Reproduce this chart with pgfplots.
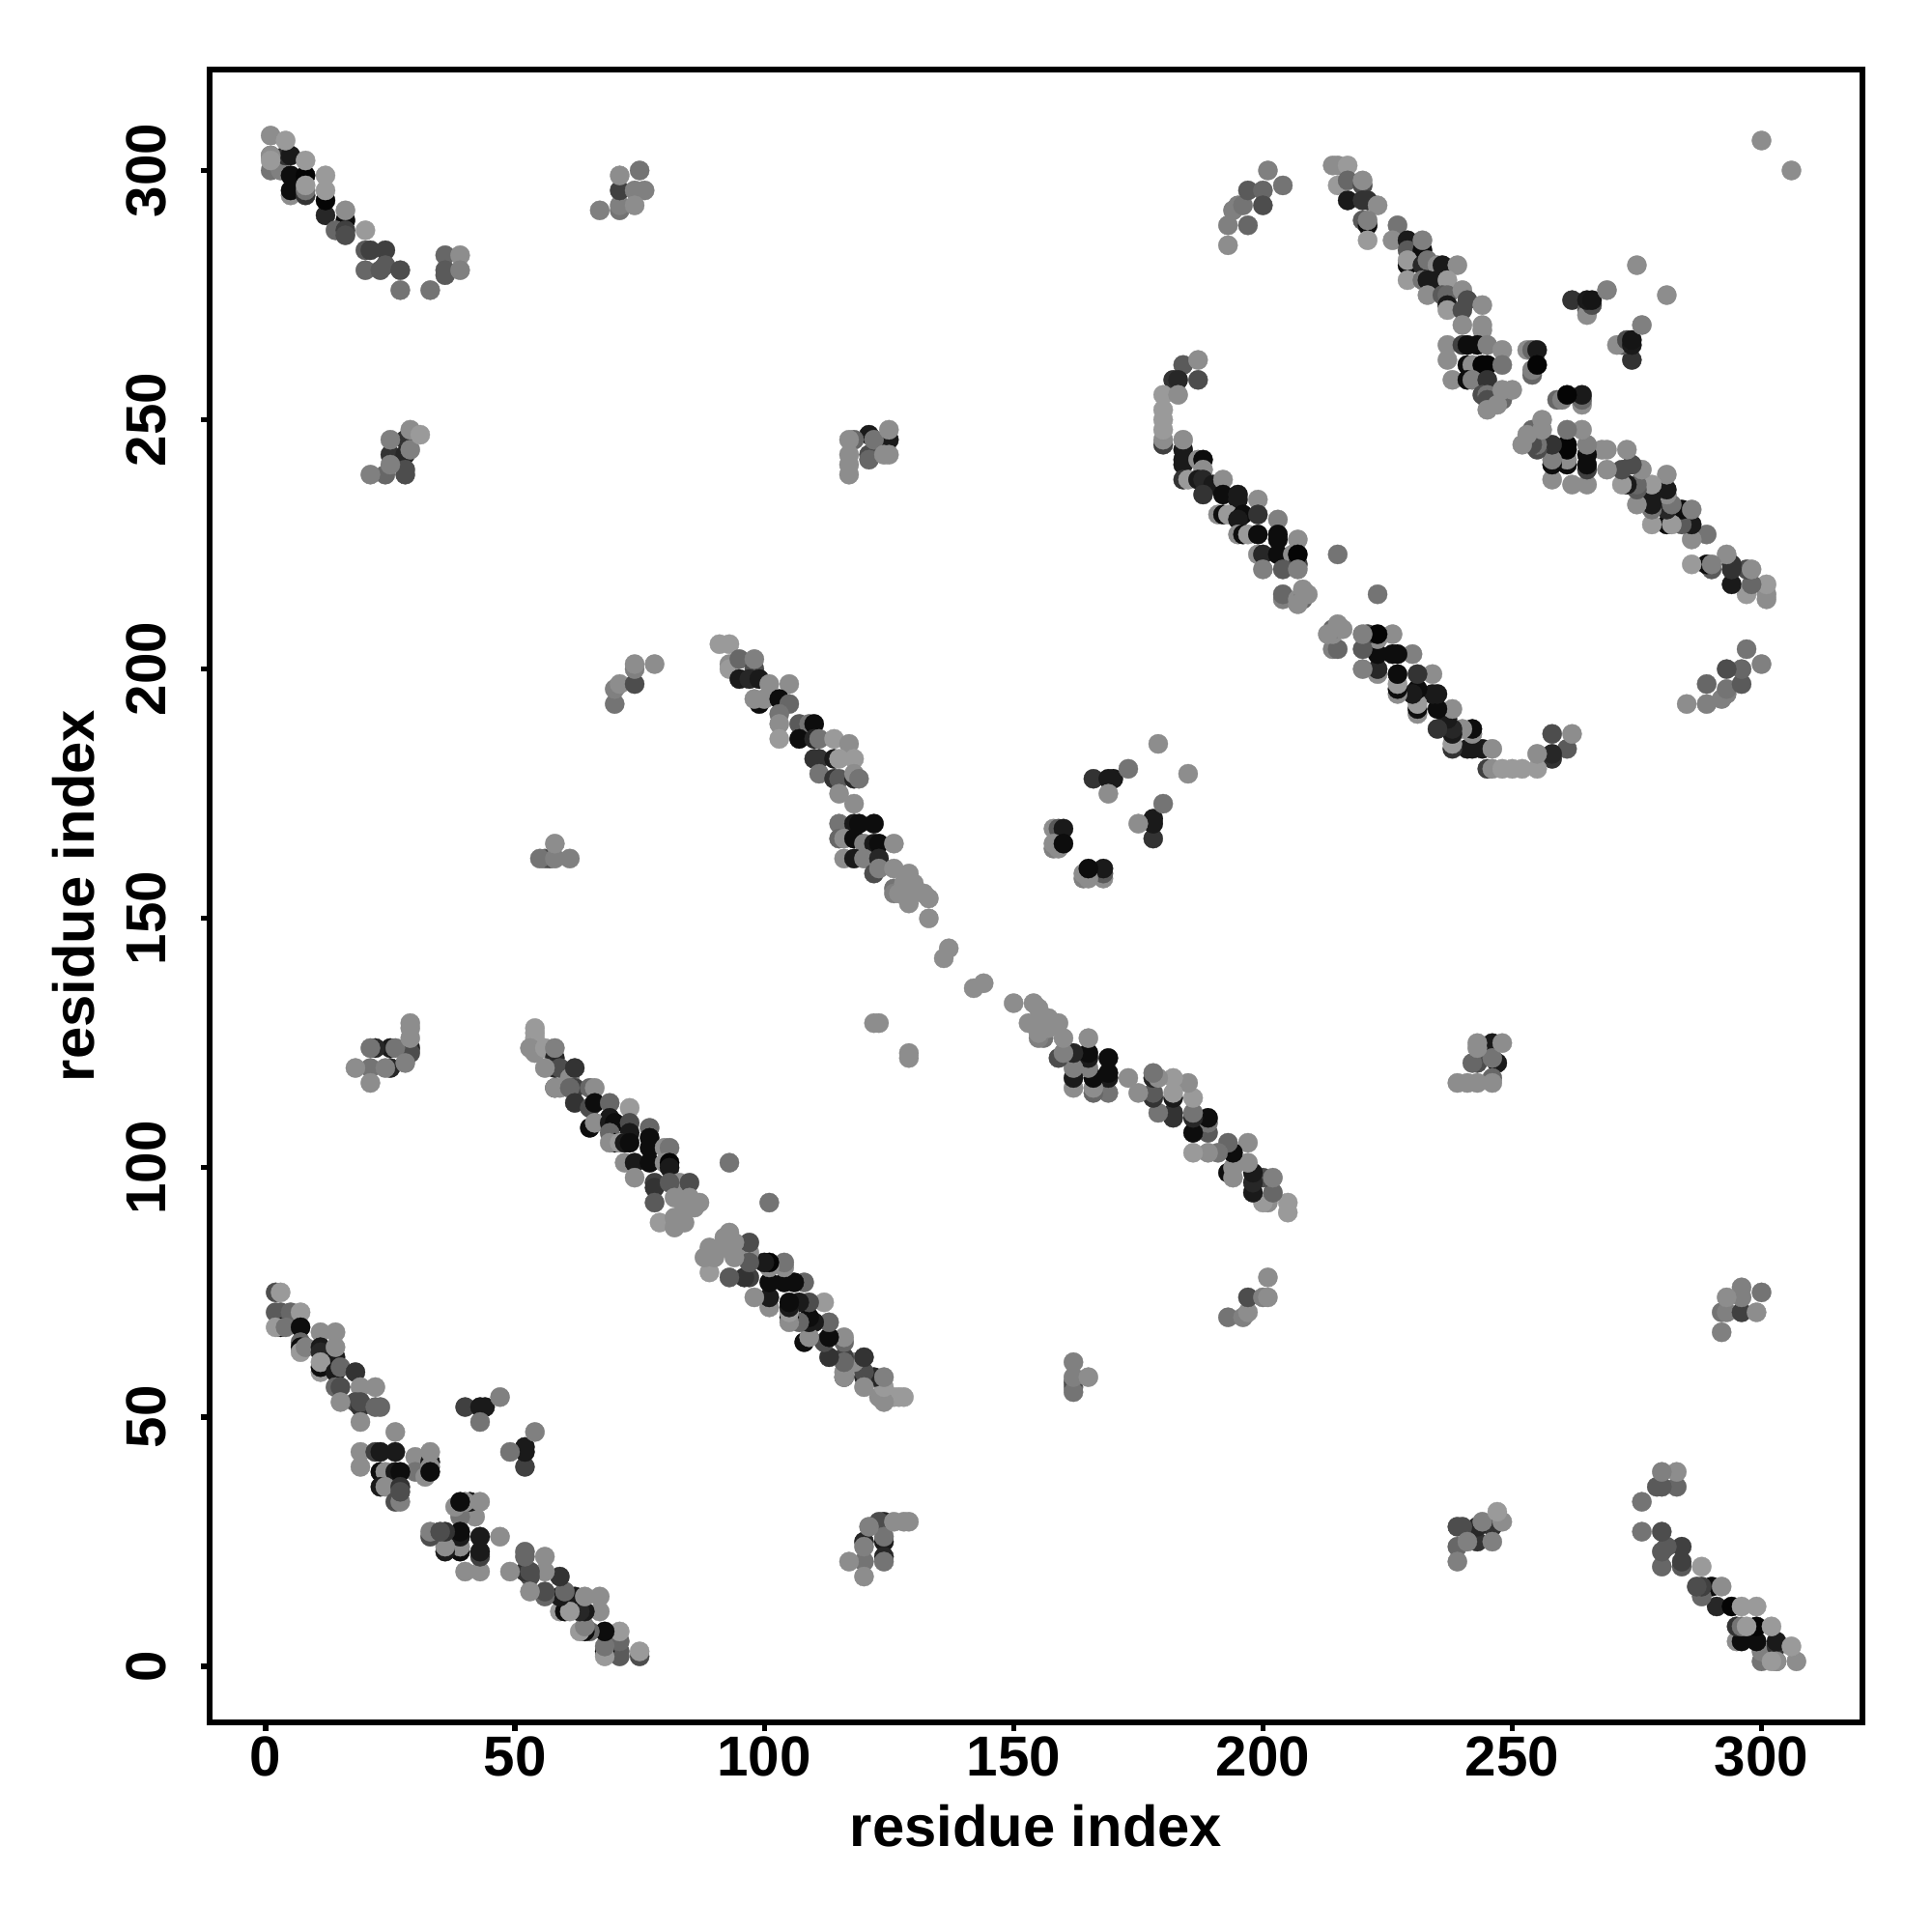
\documentclass[border=0pt]{standalone}
\usepackage{pgfplots}
\usepackage{pgfplotstable}
\usepackage{fontspec}
\setmainfont{Liberation Sans}
\pgfplotsset{compat=1.18}
\pgfplotsset{every axis/.append style={line width=1.5pt}}

% contact map, upper triangle only (i<j), g = grey level; mirrored in the plot
\pgfplotstableread[row sep=\\]{
i j g\\
1 303 .5\\ 1 300 .45\\ 3 300 .5\\ 4 303 .2\\ 5 303 .1\\ 5 295 .55\\ 5 296 .05\\ 5 299 .05\\ 8 295 .2\\ 8 296 .45\\ 8 299 .02\\
1 307 .55\\ 4 306 .6\\ 1 303 .55\\ 1 302 .6\\ 8 302 .6\\ 8 297 .6\\ 12 291 .15\\ 12 294 .02\\ 12 299 .6\\ 12 296 .6\\ 16 290 .05\\ 16 292 .55\\
14 288 .4\\ 16 288 .25\\ 16 287 .3\\ 20 284 .35\\ 21 284 .25\\ 24 284 .25\\ 20 280 .4\\ 23 280 .35\\ 24 281 .35\\ 27 280 .3\\ 20 288 .6\\
27 276 .45\\ 33 276 .45\\ 36 283 .4\\ 39 283 .55\\ 36 280 .35\\ 36 279 .35\\ 39 280 .5\\
67 292 .5\\ 71 292 .45\\ 71 293 .5\\ 71 296 .25\\ 71 299 .55\\ 75 300 .45\\ 74 296 .5\\ 76 296 .5\\ 74 293 .55\\
28 246 .2\\ 25 243 .2\\ 28 243 .15\\ 24 239 .4\\ 28 240 .3\\ 28 239 .3\\ 21 239 .5\\ 25 241 .5\\ 25 246 .5\\ 29 244 .5\\ 29 248 .55\\ 31 247 .6\\
121 247 .1\\ 125 246 .1\\ 121 243 .3\\ 121 242 .4\\ 118 246 .4\\ 117 246 .55\\ 117 243 .55\\ 117 241 .55\\ 117 239 .55\\ 122 246 .45\\ 125 248 .55\\ 124 243 .55\\ 125 243 .55\\
25 124 .1\\ 22 124 .15\\ 25 120 .15\\ 29 124 .15\\ 29 123 .3\\ 21 124 .45\\ 26 124 .45\\ 21 120 .45\\ 24 120 .5\\ 28 121 .5\\ 18 120 .55\\ 21 117 .55\\ 29 129 .55\\ 29 128 .55\\ 29 126 .55\\
2 75 .3\\ 3 75 .6\\ 2 71 .35\\ 3 71 .35\\ 5 71 .4\\ 7 71 .6\\ 3 68 .05\\ 2 68 .6\\ 4 68 .45\\ 7 68 .05\\ 7 65 .4\\ 7 64 .05\\ 7 63 .6\\ 8 64 .5\\
11 67 .55\\ 14 67 .55\\ 11 64 .1\\ 11 63 .15\\ 14 62 .1\\ 14 64 .55\\ 11 59 .6\\ 11 60 .05\\ 11 61 .6\\ 14 59 .1\\ 15 60 .4\\ 18 59 .2\\
14 56 .4\\ 15 56 .3\\ 19 56 .55\\ 22 56 .55\\ 18 53 .3\\ 19 52 .2\\ 19 53 .3\\ 15 53 .55\\ 22 52 .4\\ 23 52 .4\\ 19 49 .55\\ 26 47 .55\\ 19 43 .55\\ 19 40 .55\\
22 43 .25\\ 23 43 .1\\ 26 43 .1\\ 30 42 .55\\ 33 41 .1\\ 33 43 .55\\ 30 39 .45\\ 32 38 .55\\ 33 40 .55\\ 33 39 .05\\
23 39 .05\\ 24 39 .55\\ 26 39 .1\\ 27 39 .05\\ 23 36 .1\\ 24 36 .55\\ 27 36 .2\\ 26 33 .3\\ 27 33 .5\\ 27 35 .3\\
40 52 .25\\ 43 52 .1\\ 44 52 .1\\ 47 54 .5\\ 43 49 .45\\
54 128 .6\\ 54 127 .6\\ 54 126 .6\\ 53 124 .55\\ 54 123 .55\\ 56 124 .6\\ 58 122 .15\\ 58 124 .5\\ 58 120 .15\\ 59 120 .3\\ 56 120 .55\\ 61 118 .55\\ 62 120 .2\\
58 116 .3\\ 58 116 .55\\ 59 116 .55\\ 62 116 .25\\ 61 116 .4\\ 62 113 .2\\ 65 116 .4\\ 66 116 .55\\ 65 112 .3\\ 66 113 .05\\ 69 113 .4\\ 73 112 .6\\ 69 110 .1\\
65 108 .05\\ 66 109 .55\\ 69 109 .1\\ 70 109 .05\\ 69 107 .4\\ 73 109 .3\\ 73 107 .1\\ 77 108 .4\\ 70 105 .05\\ 69 105 .55\\ 71 105 .6\\ 72 105 .1\\ 73 105 .05\\
77 106 .05\\ 77 104 .05\\ 80 104 .55\\ 81 104 .45\\ 72 101 .55\\ 74 101 .1\\ 77 101 .05\\ 80 101 .55\\ 81 101 .02\\ 81 100 .1\\ 74 98 .55\\ 78 97 .25\\ 78 96 .2\\
83 97 .55\\ 81 97 .35\\ 85 97 .3\\ 78 93 .35\\ 82 94 .55\\ 84 92 .55\\ 85 92 .55\\ 86 92 .55\\ 79 89 .6\\ 82 90 .55\\ 82 88 .55\\ 84 89 .55\\ 85 94 .55\\ 87 93 .55\\ 93 101 .45\\
91 205 .6\\ 93 205 .6\\ 93 201 .55\\ 93 200 .6\\ 95 202 .4\\ 98 200 .3\\ 98 202 .5\\ 95 198 .1\\ 97 198 .15\\ 99 198 .1\\ 101 197 .55\\ 105 197 .55\\ 99 193 .05\\ 98 194 .55\\ 100 194 .55\\
103 194 .05\\ 105 193 .4\\ 103 191 .45\\ 103 189 .55\\ 103 186 .6\\ 107 189 .35\\ 109 189 .45\\ 110 189 .05\\ 107 186 .05\\ 110 186 .15\\ 111 186 .45\\ 114 186 .6\\ 117 185 .55\\
110 182 .2\\ 111 182 .2\\ 114 182 .1\\ 115 182 .6\\ 118 182 .6\\ 111 179 .45\\ 114 178 .2\\ 115 178 .35\\ 118 178 .15\\ 118 179 .55\\ 119 178 .45\\ 115 175 .55\\ 118 173 .55\\
115 169 .45\\ 118 169 .1\\ 119 169 .05\\ 122 169 .05\\ 115 166 .4\\ 116 166 .55\\ 118 166 .05\\ 120 165 .5\\ 122 165 .1\\ 123 165 .05\\ 126 165 .55\\
116 162 .55\\ 118 162 .1\\ 120 162 .5\\ 123 162 .15\\ 122 159 .3\\ 123 160 .5\\ 126 160 .55\\ 126 156 .45\\ 126 155 .5\\ 129 159 .55\\ 128 157 .55\\ 127 155 .55\\ 130 157 .55\\
129 154 .55\\ 132 155 .55\\ 133 154 .55\\ 129 153 .55\\ 133 150 .55\\ 136 142 .55\\ 137 144 .55\\ 122 129 .55\\ 123 129 .55\\
56 162 .4\\ 57 162 .3\\ 55 162 .45\\ 58 162 .5\\ 58 165 .55\\ 61 162 .5\\
70 193 .45\\ 70 196 .5\\ 71 197 .55\\ 74 197 .3\\ 74 200 .5\\ 74 201 .55\\ 78 201 .55\\
158 168 .55\\ 159 168 .35\\ 160 168 .1\\ 158 164 .5\\ 158 165 .55\\ 159 164 .55\\ 160 165 .05\\
166 178 .2\\ 169 178 .1\\ 170 178 .1\\ 173 180 .45\\ 169 175 .55\\ 179 185 .55\\
184 261 .35\\ 187 262 .55\\ 182 258 .2\\ 183 258 .15\\ 187 258 .3\\ 180 255 .6\\ 183 255 .55\\ 180 245 .25\\ 180 246 .55\\ 180 248 .6\\ 180 250 .6\\ 180 252 .6\\
184 244 .1\\ 184 246 .55\\ 184 242 .1\\ 184 241 .1\\ 187 242 .55\\ 188 242 .05\\ 188 240 .55\\
184 238 .2\\ 185 238 .6\\ 187 238 .1\\ 188 238 .15\\ 190 237 .1\\ 192 238 .55\\ 188 235 .2\\ 192 235 .05\\ 195 235 .1\\ 195 234 .1\\ 199 234 .55\\
191 231 .55\\ 192 231 .05\\ 193 231 .6\\ 196 231 .05\\ 195 230 .1\\ 199 231 .2\\ 203 230 .5\\ 195 227 .55\\ 196 227 .05\\ 197 227 .6\\ 199 227 .05\\ 203 226 .05\\ 203 227 .05\\ 207 226 .55\\
199 223 .55\\ 200 223 .15\\ 203 223 .05\\ 206 223 .55\\ 207 221 .25\\ 207 223 .02\\ 200 220 .5\\ 204 220 .35\\ 207 220 .5\\ 215 223 .45\\
204 214 .5\\ 204 215 .4\\ 207 214 .55\\ 208 214 .4\\ 208 216 .55\\ 209 215 .55\\ 207 213 .55\\
214 301 .55\\ 215 301 .55\\ 217 301 .6\\ 215 297 .6\\ 217 298 .4\\ 220 297 .3\\ 220 298 .55\\ 217 294 .1\\ 220 294 .2\\ 221 294 .2\\ 223 293 .55\\
220 290 .35\\ 221 289 .05\\ 221 290 .5\\ 221 286 .6\\ 227 289 .45\\ 226 286 .55\\ 229 286 .1\\ 229 284 .35\\ 232 284 .05\\ 232 286 .5\\
229 281 .05\\ 229 282 .6\\ 232 281 .15\\ 233 282 .45\\ 235 281 .55\\ 236 281 .1\\ 239 281 .55\\ 229 278 .6\\ 232 278 .45\\ 233 278 .1\\ 235 278 .1\\ 237 278 .6\\
233 275 .55\\ 236 275 .35\\ 237 275 .4\\ 237 273 .1\\ 237 272 .6\\ 240 276 .55\\ 241 274 .3\\ 240 272 .3\\ 244 273 .55\\ 240 269 .55\\ 244 269 .55\\ 244 268 .55\\
237 265 .55\\ 240 265 .25\\ 241 265 .05\\ 243 265 .05\\ 245 265 .5\\ 248 264 .55\\ 237 262 .55\\ 241 261 .05\\ 242 261 .55\\ 244 261 .02\\ 245 261 .02\\ 248 261 .45\\
238 258 .55\\ 241 258 .05\\ 242 258 .5\\ 245 258 .2\\ 244 255 .3\\ 245 255 .45\\ 245 254 .3\\ 248 254 .4\\ 248 256 .55\\ 250 256 .55\\ 247 253 .55\\ 245 252 .55\\
253 264 .55\\ 254 264 .4\\ 255 264 .1\\ 254 259 .4\\ 254 260 .5\\ 255 261 .02\\
262 274 .2\\ 265 272 .35\\ 265 271 .55\\ 266 273 .3\\ 265 274 .1\\ 266 274 .08\\ 269 276 .5\\ 275 281 .55\\
193 285 .55\\ 193 289 .5\\ 194 292 .5\\ 195 293 .5\\ 196 293 .45\\ 197 289 .4\\ 197 296 .35\\ 200 296 .4\\ 200 293 .3\\ 201 300 .5\\ 204 297 .45\\
300 306 .55\\
}\contacts

\begin{document}
\begin{tikzpicture}
\begin{axis}[
    scale only axis,
    width=17.11cm, height=17.11cm,
    at={(0,0)},
    xmin=-11.24, xmax=320.24,
    ymin=-11.24, ymax=320.24,
    xlabel={\bfseries residue index},
    ylabel={\bfseries residue index},
    xtick={0,50,100,150,200,250,300},
    ytick={0,50,100,150,200,250,300},
    tick align=outside,
    tick pos=left,
    major tick length=0.09cm,
    every tick/.style={black,line width=1.5pt},
    /pgf/number format/assume math mode=true,
    ticklabel style={font=\fontsize{16.6}{20}\selectfont\bfseries},
    xticklabel style={anchor=base,yshift=-0.46cm},
    yticklabel style={rotate=90,anchor=base,yshift=0.36cm},
    label style={font=\fontsize{17}{20}\selectfont},
    xlabel style={at={(axis description cs:0.5,0)},anchor=base,yshift=-1.28cm},
    ylabel style={at={(axis description cs:0,0.5)},anchor=base,yshift=1.19cm},
    colormap={bw}{gray(0cm)=(0); gray(1cm)=(1)},
    point meta=explicit,
    point meta min=0, point meta max=1,
    scatter/use mapped color={draw=mapped color,fill=mapped color},
]
\addplot[scatter,only marks,mark=*,mark size=2.85pt,line width=0.1pt] table[x=i,y=j,meta=g] {\contacts};
\addplot[scatter,only marks,mark=*,mark size=2.85pt,line width=0.1pt] table[x=j,y=i,meta=g] {\contacts};
\end{axis}
\useasboundingbox (-2.17cm,-2.17cm) rectangle (17.83cm,17.83cm);
\end{tikzpicture}
\end{document}
